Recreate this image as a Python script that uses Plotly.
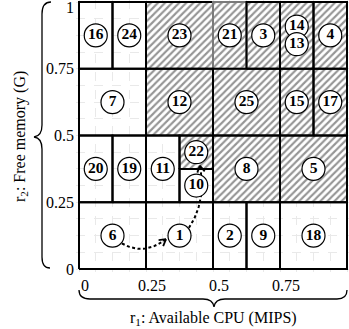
import numpy as np
import plotly.graph_objects as go

# ---- data: partition cells of the (r1, r2) space ----
cell_x0 = [0, .125, .25, .5, .625, .75, .875,
           0, .25, .5, .75, .875,
           0, .125, .25, .375, .375, .5, .75,
           0, .25, .5, .625, .75]
cell_x1 = [.125, .25, .5, .625, .75, .875, 1,
           .25, .5, .75, .875, 1,
           .125, .25, .375, .5, .5, .75, 1,
           .25, .5, .625, .75, 1]
cell_y0 = [.75] * 7 + [.5] * 5 + [.25, .25, .25, .375, .25, .25, .25] + [0] * 5
cell_y1 = [1] * 7 + [.75] * 5 + [.5, .5, .5, .5, .375, .5, .5] + [.25] * 5
cell_hatched = [0, 0, 1, 1, 1, 1, 1,
                0, 1, 1, 1, 1,
                0, 0, 0, 1, 0, 1, 1,
                0, 0, 0, 0, 0]
cell_labels = [["16"], ["24"], ["23"], ["21"], ["3"], ["14", "13"], ["4"],
               ["7"], ["12"], ["25"], ["15"], ["17"],
               ["20"], ["19"], ["11"], ["22"], ["10"], ["8"], ["5"],
               ["6"], ["1"], ["2"], ["9"], ["18"]]
gray_edge_cells = ["21"]

# migration arrows (from label, to label)
arrows = [("6", "1"), ("1", "22")]

tick_vals = [0, 0.25, 0.5, 0.75, 1]
y_tick_text = ["0", "0.25", "0.5", "0.75", "1"]
x_tick_vals = [0, 0.25, 0.5, 0.75]
x_tick_text = ["0", "0.25", "0.5", "0.75"]
x_title = "r<sub>1</sub>: Available CPU (MIPS)"
y_title = "r<sub>2</sub>: Free memory (G)"

FONT = "Liberation Serif"
W, H = 349, 329
ML, MR, MT, MB = 76, 0, 0, 57
PW, PH = W - ML - MR, H - MT - MB

fig = go.Figure()

# hatched fills
for x0, x1, y0, y1, h in zip(cell_x0, cell_x1, cell_y0, cell_y1, cell_hatched):
    if h:
        fig.add_trace(go.Scatter(
            x=[x0, x1, x1, x0, x0], y=[y0, y0, y1, y1, y0],
            mode="lines", fill="toself", fillcolor="white",
            fillpattern=dict(shape="/", fgcolor="#2b2b2b", bgcolor="white",
                             size=5, solidity=0.42),
            line=dict(width=0), hoverinfo="skip", showlegend=False))

# outlines
for x0, x1, y0, y1, labs in zip(cell_x0, cell_x1, cell_y0, cell_y1, cell_labels):
    col = "#7a7a7a" if labs[0] in gray_edge_cells else "black"
    fig.add_trace(go.Scatter(
        x=[x0, x1, x1, x0, x0], y=[y0, y0, y1, y1, y0],
        mode="lines", line=dict(color=col, width=2),
        hoverinfo="skip", showlegend=False))

# label positions: cell centres, stacked when several share a cell
lab_x, lab_y, lab_t = [], [], []
pos = {}
for x0, x1, y0, y1, labs in zip(cell_x0, cell_x1, cell_y0, cell_y1, cell_labels):
    cx, cy = (x0 + x1) / 2, (y0 + y1) / 2
    n = len(labs)
    step = (y1 - y0) * 0.53 / max(n, 1)
    for i, t in enumerate(labs):
        yy = cy + (n - 1) / 2 * step - i * step
        lab_x.append(cx); lab_y.append(yy); lab_t.append(t)
        pos[t] = (cx, yy)

# arrows (dashed curves)
R = 0.046
def bez(p0, c, p2, n=60):
    t = np.linspace(0, 1, n)[:, None]
    return (1 - t) ** 2 * np.array(p0) + 2 * (1 - t) * t * np.array(c) + t ** 2 * np.array(p2)

arrow_specs = {("6", "1"): (-40, 195, (0.0, -0.055)),
               ("1", "22"): (40, -75, (0.045, -0.02))}
for a, b in arrows:
    sa, ea, bend = arrow_specs[(a, b)]
    ca, cb = np.array(pos[a]), np.array(pos[b])
    p0 = ca + R * np.array([np.cos(np.radians(sa)), np.sin(np.radians(sa))])
    p2 = cb + (R + 0.006) * np.array([np.cos(np.radians(ea)), np.sin(np.radians(ea))])
    c = (p0 + p2) / 2 + np.array(bend)
    pts = bez(p0, c, p2)
    fig.add_trace(go.Scatter(x=pts[:, 0], y=pts[:, 1], mode="lines",
                             line=dict(color="black", width=2, dash="3px,2.5px"),
                             hoverinfo="skip", showlegend=False))
    d = p2 - c
    d = d / np.linalg.norm(d)
    L = 0.028
    for ang in (150, -150):
        rr = np.radians(ang)
        v = np.array([d[0] * np.cos(rr) - d[1] * np.sin(rr), d[0] * np.sin(rr) + d[1] * np.cos(rr)])
        q = p2 + L * v
        fig.add_trace(go.Scatter(x=[p2[0], q[0]], y=[p2[1], q[1]], mode="lines",
                                 line=dict(color="black", width=1.8),
                                 hoverinfo="skip", showlegend=False))

# numbered circles
fig.add_trace(go.Scatter(
    x=lab_x, y=lab_y, mode="markers+text",
    marker=dict(size=23, color="white", line=dict(color="black", width=1.2)),
    text=["<b>%s</b>" % t for t in lab_t], textposition="middle center",
    textfont=dict(family=FONT, size=15.5, color="black"),
    hoverinfo="skip", showlegend=False))

# tick labels
ann = []
for v, t in zip(tick_vals, y_tick_text):
    ann.append(dict(x=0, y=v, xref="x", yref="y", text=t, showarrow=False,
                    xanchor="right", yanchor="middle", xshift=-3,
                    yshift=(-5 if v == 1 else 0),
                    font=dict(family=FONT, size=16, color="black")))
for v, t in zip(x_tick_vals, x_tick_text):
    ann.append(dict(x=v, y=0, xref="x", yref="y", text=t, showarrow=False,
                    xanchor="center", yanchor="top", xshift=6, yshift=-6,
                    font=dict(family=FONT, size=16, color="black")))

def px(X): return (X - ML) / PW
def py(Y): return (MT + PH - Y) / PH

ann.append(dict(x=px(213), y=py(318), xref="paper", yref="paper", text=x_title,
                showarrow=False, xanchor="center", yanchor="middle",
                font=dict(family=FONT, size=16, color="black")))
ann.append(dict(x=px(20), y=py(137), xref="paper", yref="paper", text=y_title,
                showarrow=False, xanchor="center", yanchor="middle", textangle=-90,
                font=dict(family=FONT, size=16, color="black")))

def path(cmds):
    out = []
    for c in cmds:
        if isinstance(c, str):
            out.append(c)
        else:
            out.append("%.5f,%.5f" % (px(c[0]), py(c[1])))
    return " ".join(out)

left_brace = path(["M", (51, 2), "Q", (42, 2), (42, 14), "L", (42, 125), "Q", (42, 136), (34, 137),
                   "Q", (42, 138), (42, 149), "L", (42, 257), "Q", (42, 268), (50, 268)])
bottom_brace = path(["M", (79, 290), "Q", (79, 299), (90, 299), "L", (203, 299), "Q", (213, 299), (214, 307),
                     "Q", (215, 299), (225, 299), "L", (337, 299), "Q", (347, 299), (347, 290)])
shapes = [dict(type="path", path=left_brace, xref="paper", yref="paper",
               line=dict(color="black", width=1.3)),
          dict(type="path", path=bottom_brace, xref="paper", yref="paper",
               line=dict(color="black", width=1.3))]

xr = [-3 / 268, (PW - 3) / 268]
yr = [-3 / 267, (PH - 3) / 267]
grid = dict(showgrid=True, gridcolor="#e9e9e9", griddash="dash", gridwidth=1,
            dtick=0.0625, tick0=0, zeroline=False, showticklabels=False,
            ticks="", showline=False, fixedrange=True)
fig.update_layout(
    width=W, height=H, margin=dict(l=ML, r=MR, t=MT, b=MB, autoexpand=False),
    paper_bgcolor="white", plot_bgcolor="white",
    xaxis=dict(range=xr, **grid), yaxis=dict(range=yr, **grid),
    annotations=ann, shapes=shapes, showlegend=False)

fig.write_html("out.html", config={"displayModeBar": False},
               post_script="document.body.style.margin='0px';document.body.style.padding='0px';document.body.style.overflow='hidden';")
